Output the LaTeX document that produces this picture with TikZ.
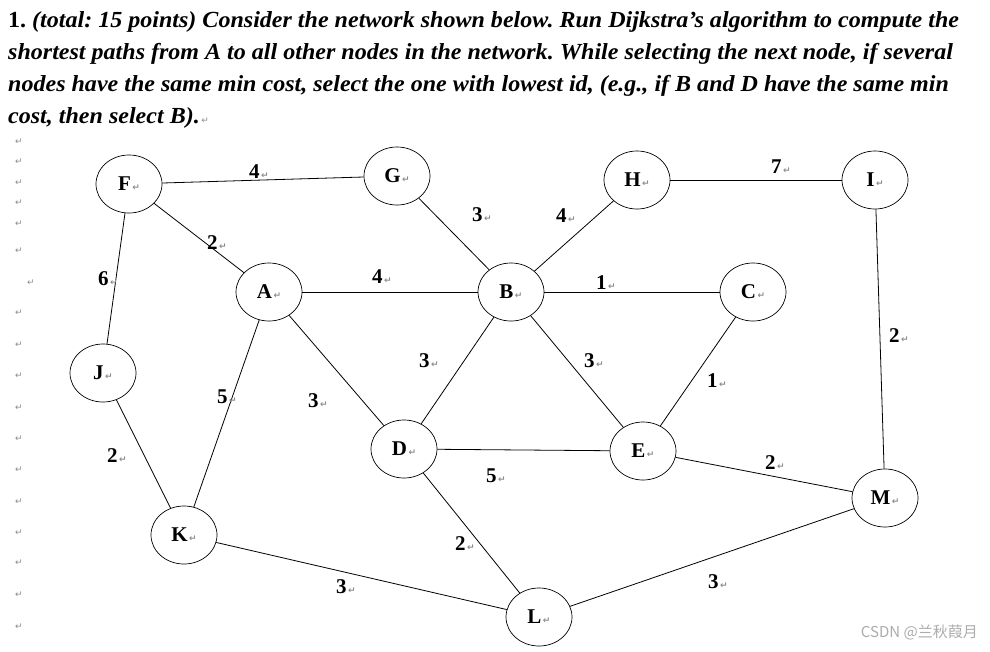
\documentclass[tikz,border=0pt]{standalone}
\usepackage{fontspec}
\setmainfont{Liberation Serif}
\newfontfamily\symfont{DejaVu Sans}
\newfontfamily\cjkfont{Noto Sans CJK SC}
\usetikzlibrary{shapes.geometric}
\definecolor{retgray}{gray}{0.55}
\newcommand\retmark{{\symfont\fontsize{9}{9}\selectfont\color{retgray}\,↵}}
\newcommand\wideline[1]{\scalebox{1.045}[1]{#1}}
\frenchspacing
\begin{document}
\begin{tikzpicture}[x=1pt,y=-1pt,
  vtx/.style={ellipse, draw, line width=0.7pt, minimum width=66pt, minimum height=58pt, inner sep=0pt, font=\fontsize{21}{25}\selectfont\bfseries},
  edge/.style={line width=0.8pt},
  wt/.style={anchor=base west, inner sep=0pt, font=\fontsize{21}{25}\selectfont\bfseries},
  pmark/.style={inner sep=0pt, text=retgray, font=\symfont\fontsize{9}{9}\selectfont},
  titleline/.style={anchor=base west, inner sep=0pt, font=\fontsize{23}{27}\selectfont\frenchspacing}]
\useasboundingbox[fill=white] (0,0) rectangle (990,651);
% title
\node[titleline] (t1) at (8,27) {\wideline{\textbf{1.} \textbf{\textit{(total: 15 points) Consider the network shown below. Run Dijkstra’s algorithm to compute the}}}};
\node[titleline] (t2) at (8,59) {\wideline{\textbf{\textit{shortest paths from A to all other nodes in the network. While selecting the next node, if several}}}};
\node[titleline] (t3) at (8,91) {\wideline{\textbf{\textit{nodes have the same min cost, select the one with lowest id, (e.g., if B and D have the same min}}}};
\node[titleline] (t4) at (8,123) {\wideline{\textbf{\textit{cost, then select B).}}}\retmark};
% margin paragraph marks
\foreach \yy [count=\i] in {142,162,183,203,224,251,313,345,376,408,439,470,502,533,563,595,627}
  \node[pmark] (m\i) at (19,\yy) {↵};
\node[pmark] (m0) at (31,283) {↵};
% vertices
\node[vtx] (F) at (129,184) {F\retmark};
\node[vtx] (G) at (397,176) {G\retmark};
\node[vtx] (H) at (637,180) {H\retmark};
\node[vtx] (I) at (875,180) {I\retmark};
\node[vtx] (A) at (269,292) {A\retmark};
\node[vtx] (B) at (511,292) {B\retmark};
\node[vtx] (C) at (753,292) {C\retmark};
\node[vtx] (J) at (103,373) {J\retmark};
\node[vtx] (D) at (404,449) {D\retmark};
\node[vtx] (E) at (643,451) {E\retmark};
\node[vtx] (M) at (885,498) {M\retmark};
\node[vtx] (K) at (184,535) {K\retmark};
\node[vtx] (L) at (539,617) {L\retmark};
% edges
\draw[edge] (F) -- (G);
\draw[edge] (F) -- (A);
\draw[edge] (F) -- (J);
\draw[edge] (G) -- (B);
\draw[edge] (H) -- (B);
\draw[edge] (H) -- (I);
\draw[edge] (A) -- (B);
\draw[edge] (B) -- (C);
\draw[edge] (I) -- (M);
\draw[edge] (B) -- (D);
\draw[edge] (B) -- (E);
\draw[edge] (C) -- (E);
\draw[edge] (A) -- (K);
\draw[edge] (A) -- (D);
\draw[edge] (J) -- (K);
\draw[edge] (D) -- (E);
\draw[edge] (D) -- (L);
\draw[edge] (E) -- (M);
\draw[edge] (K) -- (L);
\draw[edge] (L) -- (M);
% weights
\node[wt] (wFG) at (249,178) {4\retmark};
\node[wt] (wFA) at (207,249) {2\retmark};
\node[wt] (wFJ) at (98,285) {6\retmark};
\node[wt] (wGB) at (472,221) {3\retmark};
\node[wt] (wHB) at (556,222) {4\retmark};
\node[wt] (wHI) at (771,173) {7\retmark};
\node[wt] (wAB) at (372,283) {4\retmark};
\node[wt] (wBC) at (596,289) {1\retmark};
\node[wt] (wIM) at (889,342) {2\retmark};
\node[wt] (wBD) at (419,367) {3\retmark};
\node[wt] (wBE) at (584,367) {3\retmark};
\node[wt] (wCE) at (707,387) {1\retmark};
\node[wt] (wAK) at (217,403) {5\retmark};
\node[wt] (wAD) at (308,407) {3\retmark};
\node[wt] (wJK) at (107,462) {2\retmark};
\node[wt] (wDE) at (486,482) {5\retmark};
\node[wt] (wDL) at (455,550) {2\retmark};
\node[wt] (wEM) at (765,469) {2\retmark};
\node[wt] (wKL) at (336,593) {3\retmark};
\node[wt] (wLM) at (708,588) {3\retmark};
% watermark
\node[anchor=east, inner sep=0pt, text=gray!65, font=\cjkfont\fontsize{15}{15}\selectfont] (wm) at (978,632) {CSDN @兰秋葭月};
\end{tikzpicture}
\end{document}
